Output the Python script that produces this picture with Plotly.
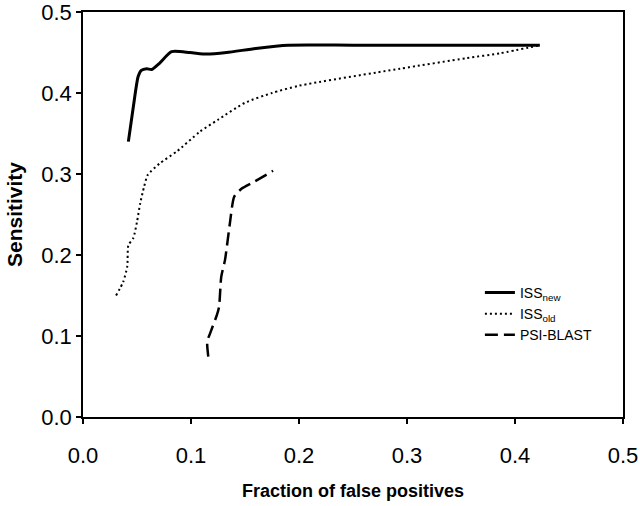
import plotly.graph_objects as go

# ISS new
new_x = [0.042, 0.0466, 0.051, 0.054, 0.059, 0.0636, 0.071, 0.082, 0.099, 0.1145, 0.133, 0.16, 0.19, 0.25, 0.33, 0.423]
new_y = [0.340, 0.383, 0.420, 0.428, 0.430, 0.429, 0.437, 0.451, 0.450, 0.448, 0.450, 0.455, 0.459, 0.459, 0.459, 0.459]

# ISS old
old_x = [0.0306, 0.0373, 0.041, 0.042, 0.0466, 0.050, 0.053, 0.0565, 0.060, 0.071, 0.087, 0.108, 0.125, 0.15, 0.175, 0.2, 0.2935, 0.355, 0.386, 0.423]
old_y = [0.150, 0.167, 0.186, 0.212, 0.221, 0.241, 0.264, 0.284, 0.299, 0.313, 0.328, 0.352, 0.367, 0.388, 0.400, 0.409, 0.430, 0.443, 0.449, 0.459]

# PSI-BLAST
psi_x = [0.116, 0.115, 0.1176, 0.124, 0.126, 0.128, 0.1315, 0.136, 0.140, 0.147, 0.158, 0.176]
psi_y = [0.0745, 0.093, 0.103, 0.126, 0.136, 0.173, 0.194, 0.239, 0.272, 0.282, 0.290, 0.304]

ticks = [0.0, 0.1, 0.2, 0.3, 0.4, 0.5]
tick_text = ["0.0", "0.1", "0.2", "0.3", "0.4", "0.5"]

FONT = "Liberation Sans, Arial"

fig = go.Figure()
fig.add_trace(go.Scatter(x=new_x, y=new_y, mode="lines", name="ISS<sub>new</sub>",
                         line=dict(color="black", width=3, shape="spline", smoothing=0.6)))
fig.add_trace(go.Scatter(x=old_x, y=old_y, mode="lines", name="ISS<sub>old</sub>",
                         line=dict(color="black", width=2, dash="2px,3px", shape="spline", smoothing=0.6)))
fig.add_trace(go.Scatter(x=psi_x, y=psi_y, mode="lines", name="PSI-BLAST",
                         line=dict(color="black", width=2.5, dash="13px,6px", shape="spline", smoothing=0.6)))

axis_common = dict(
    range=[0, 0.5], tickvals=ticks, ticktext=tick_text, automargin=False,
    ticklabeloverflow="allow",
    showgrid=False, zeroline=False, showline=True, linecolor="black", linewidth=1.5,
    mirror=True, ticks="outside", ticklen=5, tickwidth=1.5, tickcolor="black",
    tickfont=dict(size=22, color="black", family=FONT),
)

fig.update_layout(
    width=640, height=506,
    margin=dict(l=83, r=17, t=12, b=89),
    paper_bgcolor="white", plot_bgcolor="white",
    font=dict(family=FONT, color="black"),
    xaxis=dict(axis_common, ticklabelstandoff=13,
               title=dict(text="<b>Fraction of false positives</b>", font=dict(size=18), standoff=17)),
    yaxis=dict(axis_common, ticklabelstandoff=0,
               title=dict(text="<b>Sensitivity</b>", font=dict(size=21), standoff=13)),
    legend=dict(x=0.735, y=0.346, xanchor="left", yanchor="top",
                font=dict(size=14, color="black"), bgcolor="rgba(0,0,0,0)",
                tracegroupgap=0),
    showlegend=True,
)

# drop the default body margin so the fixed-size figure sits at the window corner
fig.write_html("out.html", config={"displayModeBar": False},
               post_script="document.body.style.margin='0';")
